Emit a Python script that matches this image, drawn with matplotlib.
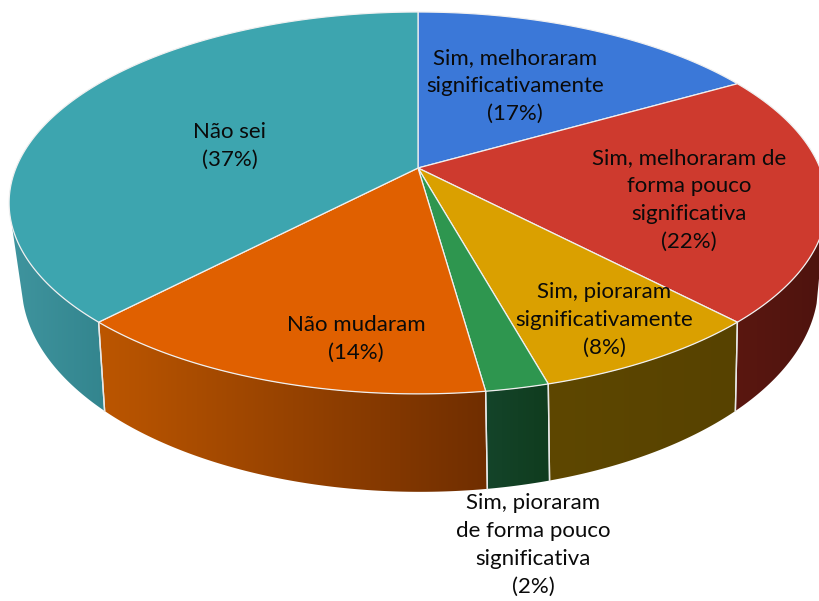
import numpy as np
import matplotlib
matplotlib.use("Agg")
import matplotlib.pyplot as plt
from matplotlib.patches import PathPatch
from matplotlib.path import Path
from matplotlib.colors import LinearSegmentedColormap

plt.rcParams['font.family'] = ['Lato', 'DejaVu Sans']

# --- data ---
categories = ["Sim, melhoraram\nsignificativamente", "Sim, melhoraram de\nforma pouco\nsignificativa",
              "Sim, pioraram\nsignificativamente", "Sim, pioraram\nde forma pouco\nsignificativa",
              "Não mudaram", "Não sei"]
shares = [16.7, 21.2, 7.8, 2.1, 14.3, 37.9]      # slice sizes
labels_pct = ["17%", "22%", "8%", "2%", "14%", "37%"]
top_colors = ["#3B78D8", "#CE3A2E", "#DAA000", "#2E964F", "#E06000", "#3DA5AF"]
side_left = ["#2F60AD", "#5A1710", "#5E4700", "#14442A", "#BC5600", "#3F949E"]
side_right = ["#2F60AD", "#4E130E", "#574200", "#103C1E", "#702E00", "#33858E"]
label_pos = [(515, 86), (689, 200), (604, 320), (533, 545), (356, 339), (230, 146)]

# --- projection of the tilted disc (pixel axes) ---
TOP = dict(cx=418, y0=168, a=402, b=153.8, k=0.183)
BOT = dict(cx=420, y0=241.5, a=390, b=150.0, k=0.204)
FRONT_MIN, FRONT_MAX = np.radians(107), np.radians(253)   # part of the rim that faces the viewer


def project(theta, p, r=1.0):
    u, v = r * np.sin(theta), r * np.cos(theta)
    w = 1 + p['k'] * v
    return p['cx'] + p['a'] * u / w, (p['y0'] - p['b'] * v) / w


fig = plt.figure(figsize=(8.2, 6.01), dpi=100)
ax = fig.add_axes([0, 0, 1, 1])
ax.axis('off')

edges = 2 * np.pi * np.cumsum([0] + shares) / sum(shares)

# sides
for i in range(len(shares)):
    start, end = max(edges[i], FRONT_MIN), min(edges[i + 1], FRONT_MAX)
    if start >= end:
        continue
    t = np.linspace(start, end, 200)
    xt, yt = project(t, TOP)
    xb, yb = project(t, BOT)
    xs = np.r_[xt, xb[::-1]]
    ys = np.r_[yt, yb[::-1]]
    verts = np.c_[xs, ys]
    path = Path(np.r_[verts, verts[:1]], closed=True)
    cmap = LinearSegmentedColormap.from_list("s", [side_left[i], side_right[i]])
    im = ax.imshow(np.linspace(0, 1, 256)[None, :], cmap=cmap, aspect='auto', zorder=2,
                   extent=(xs.min(), xs.max(), ys.max(), ys.min()), interpolation='bilinear')
    patch = PathPatch(path, transform=ax.transData, fc='none', ec='none')
    ax.add_patch(patch)
    im.set_clip_path(patch)
    # separators between the side faces
    for e in (edges[i], edges[i + 1]):
        a, b = project(e, TOP), project(e, BOT)
        if FRONT_MIN < e < FRONT_MAX:
            ax.plot([a[0], b[0]], [a[1], b[1]], color='#E8E8E8', lw=1.0, zorder=3)

# top faces
cx0, cy0 = project(0.0, TOP, 0.0)
for i in range(len(shares)):
    t = np.linspace(edges[i], edges[i + 1], 300)
    xt, yt = project(t, TOP)
    ax.fill(np.r_[cx0, xt], np.r_[cy0, yt], fc=top_colors[i], ec='#F0F0F0', lw=0.9, zorder=4,
            joinstyle='round')

# labels
for cat, pct, (lx, ly) in zip(categories, labels_pct, label_pos):
    ax.text(lx, ly, f"{cat}\n({pct})", ha='center', va='center', fontsize=16,
            color='#0A0A0A', linespacing=1.5, zorder=6)

ax.set_xlim(0, 820)
ax.set_ylim(601, 0)
fig.savefig("out.png", dpi=100)
